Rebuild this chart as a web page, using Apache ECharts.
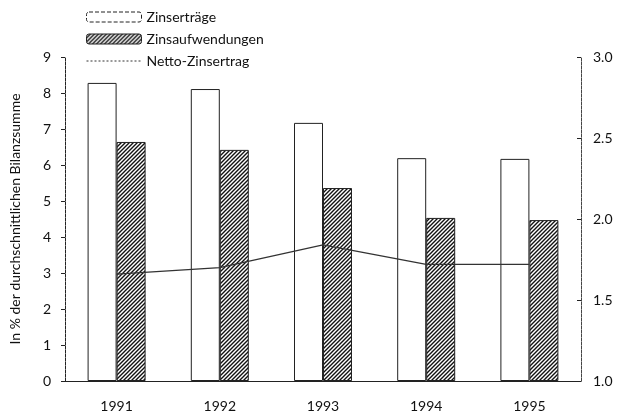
<!DOCTYPE html>
<html lang="de">
<head>
  <meta charset="UTF-8">
  <title>Zinsen</title>
  <script src="https://cdn.jsdelivr.net/npm/echarts@6/dist/echarts.min.js"></script>
  <style>
    html, body { margin: 0; padding: 0; background: #fff; }
    #main { width: 623px; height: 415px; }
  </style>
</head>
<body>
<div id="main"></div>
<script>
  // Daten
  var jahre = ['1991', '1992', '1993', '1994', '1995'];
  var zinsertraege = [8.28, 8.11, 7.17, 6.19, 6.17];
  var zinsaufwendungen = [6.64, 6.42, 5.36, 4.53, 4.47];
  var nettoZinsertrag = [1.66, 1.70, 1.84, 1.72, 1.72];

  // Schraffur fuer die Zinsaufwendungen
  function hatch() {
    var c = document.createElement('canvas');
    c.width = 4; c.height = 4;
    var ctx = c.getContext('2d');
    ctx.fillStyle = '#fff';
    ctx.fillRect(0, 0, 4, 4);
    ctx.strokeStyle = '#111';
    ctx.lineWidth = 1.4;
    ctx.beginPath();
    ctx.moveTo(-1, 5); ctx.lineTo(5, -1);
    ctx.moveTo(-1, 1); ctx.lineTo(1, -1);
    ctx.moveTo(3, 5); ctx.lineTo(5, 3);
    ctx.stroke();
    return c;
  }
  var muster = { image: hatch(), repeat: 'repeat' };

  var schrift = 'Lato, "Noto Sans", sans-serif';
  var achse = '#222';

  var chart = echarts.init(document.getElementById('main'), null, { renderer: 'canvas' });

  var option = {
    animation: false,
    textStyle: { fontFamily: schrift, color: '#111' },
    legend: {
      orient: 'vertical',
      left: 81,
      top: 5,
      itemWidth: 55,
      itemHeight: 10,
      itemGap: 8,
      textStyle: { fontFamily: schrift, fontSize: 14, color: '#111' },
      data: [
        { name: 'Zinserträge', itemStyle: { color: '#fff', borderColor: '#222', borderWidth: 1, borderType: 'dashed' } },
        { name: 'Zinsaufwendungen', itemStyle: { color: muster, borderColor: '#222', borderWidth: 1 } },
        { name: 'Netto-Zinsertrag', itemStyle: { opacity: 0 }, lineStyle: { type: [2, 2], color: '#333', width: 1 } }
      ]
    },
    grid: { left: 65, right: 42, top: 57, bottom: 34 },
    xAxis: {
      type: 'category',
      data: jahre,
      axisLine: { lineStyle: { color: achse, width: 1 } },
      axisTick: { length: 4, lineStyle: { color: achse } },
      axisLabel: { fontSize: 14, color: '#111', margin: 18, fontFamily: schrift }
    },
    yAxis: [
      {
        type: 'value',
        min: 0,
        max: 9,
        interval: 1,
        name: 'In % der durchschnittlichen Bilanzsumme',
        nameLocation: 'middle',
        nameGap: 43,
        nameTextStyle: { fontSize: 14, color: '#111', fontFamily: schrift },
        axisLine: { show: true, lineStyle: { color: achse, width: 1, type: [3, 1] } },
        axisTick: { show: true, length: 4, lineStyle: { color: achse } },
        axisLabel: { fontSize: 14, color: '#111', margin: 14, fontFamily: schrift },
        splitLine: { show: false }
      },
      {
        type: 'value',
        min: 1,
        max: 3,
        interval: 0.5,
        position: 'right',
        axisLine: { show: true, lineStyle: { color: '#444', width: 1, type: [3, 1] } },
        axisTick: { show: true, inside: true, length: 4, lineStyle: { color: achse } },
        axisLabel: {
          fontSize: 14, color: '#111', margin: 12, fontFamily: schrift,
          formatter: function (v) { return v.toFixed(1); }
        },
        splitLine: { show: false }
      }
    ],
    series: [
      {
        name: 'Zinserträge',
        type: 'bar',
        data: zinsertraege,
        barWidth: 29,
        barGap: '0%',
        itemStyle: { color: '#fff', borderColor: '#222', borderWidth: 1 }
      },
      {
        name: 'Zinsaufwendungen',
        type: 'bar',
        data: zinsaufwendungen,
        barWidth: 29,
        barGap: '0%',
        itemStyle: { color: muster, borderColor: '#222', borderWidth: 1 }
      },
      {
        name: 'Netto-Zinsertrag',
        type: 'line',
        yAxisIndex: 1,
        data: nettoZinsertrag,
        symbol: 'none',
        z: 5,
        lineStyle: { color: '#333', width: 1.2 },
        itemStyle: { color: '#333' }
      }
    ]
  };

  chart.setOption(option);
</script>
</body>
</html>
